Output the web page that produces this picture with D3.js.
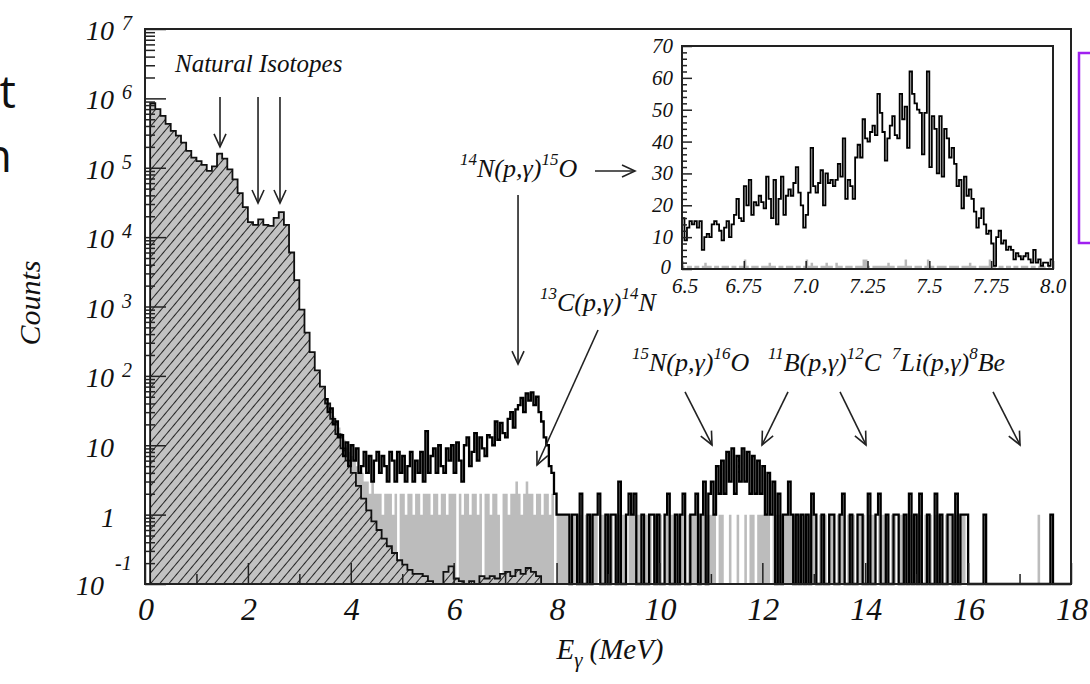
<!DOCTYPE html>
<html>
<head>
<meta charset="utf-8">
<script src="https://cdn.jsdelivr.net/npm/d3@7"></script>
<style>
  body { margin: 0; background: #fff; }
  svg text { font-family: "Liberation Serif", "Times New Roman", serif; font-style: italic; fill: #111; }
  .tick line { stroke: #222; stroke-width: 1.5; }
</style>
</head>
<body>
<svg id="chart" width="1090" height="684"></svg>
<script>
// ---- data ----

// hatched (natural background) spectrum, 0.1 MeV bins starting at 0 MeV
var hatchStart = 0, hatchWidth = 0.1;
var hatchCounts = [
  0, 8.5e5, 7.0e5, 5.6e5, 4.3e5, 3.4e5, 2.9e5, 2.3e5, 1.75e5, 1.4e5,      // 0.0 - 0.9
  1.25e5, 1.1e5, 9.0e4, 1.05e5, 1.6e5, 1.35e5, 9.5e4, 6.8e4, 4.3e4, 2.7e4, // 1.0 - 1.9
  1.65e4, 1.5e4, 1.8e4, 1.5e4, 1.45e4, 1.9e4, 2.3e4, 1.5e4, 6.0e3, 2.4e3,  // 2.0 - 2.9
  900, 420, 220, 120, 70, 40, 24, 14.5, 9, 6,                              // 3.0 - 3.9
  4.0, 2.6, 1.7, 1.15, 0.8, 0.6, 0.45, 0.35, 0.28, 0.22,                   // 4.0 - 4.9
  0.19, 0.16, 0.14, 0.14, 0.13, 0.11, 0, 0.1, 0.15, 0.18,                  // 5.0 - 5.9
  0.12, 0.11, 0, 0.11, 0.1, 0.13, 0.12, 0.13, 0.12, 0.14,                  // 6.0 - 6.9
  0.15, 0.13, 0.16, 0.14, 0.17, 0.15, 0.13, 0                              // 7.0 - 7.7
];

// grey spectrum, 0.05 MeV bins starting at 3.5 MeV
var greyStart = 3.5, greyWidth = 0.05;
var greyCounts = [
  45,38,30,26,22,18,15,12,10,8,                               // 3.5 - 3.95
  7,6,5,4,4,3,3,2,3,2,2,2,1,2,2,2,1,2,0,2,                    // 4
  2,1,2,2,1,2,2,1,2,2,2,1,2,2,1,2,2,1,2,2,                    // 5
  2,0,2,1,2,2,1,2,2,1,2,0,2,2,1,2,2,1,0,2,                    // 6
  2,1,2,2,3,2,1,2,3,2,2,1,2,2,1,2,2,1,2,0,                    // 7
  1,1,1,1,1,0,1,1,1,1,0,1,1,1,1,1,0,1,1,1,                    // 8
  1,1,0,1,1,1,1,0,1,1,1,1,1,0,1,1,1,0,1,1,                    // 9
  1,0,1,1,1,1,0,1,1,1,0,1,1,1,1,0,1,1,1,1,                    // 10
  1,1,0,1,1,0,0,1,0,0,1,0,0,1,0,1,1,0,1,1,                    // 11
  1,1,1,0,1,1,1,1,1,1,1,1,1,1,1,0,1,1,1,1,                    // 12
  1,0,1,1,1,0,1,1,0,1,1,1,0,1,1,1,0,1,1,1,                    // 13
  0,1,1,1,0,1,1,1,1,0,1,1,0,1,1,1,0,1,1,0,                    // 14
  1,1,0,1,1,1,0,1,1,1,0,1,1,1,0,1,1,1,1,0,                    // 15
  0,0,0,0,0,0,0,0,0,0,0,0,0,0,0,0,0,0,0,0,                    // 16
  0,0,0,0,0,0,0,1,0,0,0,0,0,0,0,0,0,0,0,0                     // 17
];

// black (beam) spectrum, 0.05 MeV bins starting at 3.5 MeV
var blackStart = 3.5, blackWidth = 0.05;
var blackCounts = [
  46,30,34,20,22,13,14,7,11,5,                                // 3.5 - 3.95
  10,6,9,4,5,8,4,7,3,6,8,4,7,5,3,8,6,3,8,4,                   // 4
  7,3,5,8,3,6,4,8,3,16,4,7,9,4,10,5,4,9,6,10,                 // 5
  4,11,6,3,10,13,5,8,15,6,13,9,7,14,13,10,22,12,21,15,        // 6
  13,24,30,18,33,38,48,30,56,44,58,38,50,30,22,13,10,5,4,2,   // 7
  1,1,1,1,1,0,1,1,0,2,0,0,1,0,1,1,2,0,0,1,                    // 8
  0,1,1,0,3,0,0,1,2,1,2,0,0,1,0,0,1,1,0,1,                    // 9
  0,0,1,2,0,0,1,0,1,2,0,0,1,1,2,0,1,3,0,2,                    // 10
  3,1,5,2,6,2,8,3,9,2,7,3,9,3,8,2,7,2,6,2,                    // 11
  5,1,4,1,3,0,2,0,1,1,3,1,0,1,0,1,0,1,0,2,                    // 12
  1,0,0,1,0,0,1,1,0,0,1,2,0,0,1,0,0,1,1,0,                    // 13
  0,2,0,0,1,2,0,0,1,0,0,1,1,0,0,1,0,2,0,1,                    // 14
  0,2,0,0,1,0,0,2,0,1,0,0,1,1,0,2,0,1,1,1,                    // 15
  0,0,0,0,0,0,1,0,0,0,0,0,0,0,0,0,0,0,0,0,                    // 16
  0,0,0,0,0,0,0,0,0,0,0,0,1,0,0,0,0,0,0,0                     // 17
];

// inset: 14N(p,g)15O peak, 0.01 MeV bins from 6.5 MeV
var insetStart = 6.5, insetWidth = 0.01;
var insetCounts = [
  16,9,13,15,14,15,13,15,6,10,11,10,14,15,14,12,9,13,15,10,14,17,22,16,15,
  26,20,28,17,21,20,23,21,19,29,22,16,28,14,22,29,17,23,25,23,27,32,24,20,13,
  17,24,38,26,24,27,31,20,30,27,28,26,28,33,29,41,22,28,26,22,35,39,35,47,41,
  40,43,45,42,55,49,43,34,41,45,48,42,41,55,47,51,38,62,55,52,50,49,36,49,62,
  32,48,44,30,48,29,44,41,35,38,33,26,28,19,29,23,25,22,18,13,16,19,14,11,12,
  8,1,10,12,8,9,6,7,6,3,5,4,3,4,5,3,2,6,2,3,1,2,2,1,3
];
var insetGrey = [
  1,0,1,1,0,1,1,0,1,2,1,1,0,1,1,0,1,1,1,0,1,1,0,1,1,
  3,1,0,1,1,1,0,1,1,1,2,1,1,0,1,1,0,1,1,1,0,1,1,0,1,
  3,1,2,1,1,0,1,1,2,1,1,0,2,1,1,0,1,1,1,0,1,1,1,3,3,
  1,0,1,1,1,1,1,1,2,1,1,0,1,1,1,3,1,1,0,1,1,1,0,1,3,
  1,1,0,1,1,1,1,0,1,1,1,1,0,1,1,1,2,1,1,0,1,1,1,1,3,
  1,1,0,1,1,0,1,1,0,1,1,0,1,1,1,0,1,1,0,1,2,1,0,1,0
];

// axes
var xTicks = [0, 2, 4, 6, 8, 10, 12, 14, 16, 18];
var yExponents = [-1, 0, 1, 2, 3, 4, 5, 6, 7];
var insetXTicks = [6.5, 6.75, 7.0, 7.25, 7.5, 7.75, 8.0];
var insetXLabels = ["6.5", "6.75", "7.0", "7.25", "7.5", "7.75", "8.0"];
var insetYTicks = [0, 10, 20, 30, 40, 50, 60, 70];

// annotations (energy in MeV, counts)
var isotopeArrows = [
  {E: 1.458, from: 1.05e6, to: 2.0e5},
  {E: 2.197, from: 1.05e6, to: 3.1e4},
  {E: 2.624, from: 1.05e6, to: 3.1e4}
];
var reactionLabels = [
  {a: "14", b: "N(p,\u03b3)", c: "15", d: "O", E: 6.123, n: 7.36e4},
  {a: "13", b: "C(p,\u03b3)", c: "14", d: "N", E: 7.678, n: 850},
  {a: "15", b: "N(p,\u03b3)", c: "16", d: "O", E: 9.467, n: 117},
  {a: "11", b: "B(p,\u03b3)", c: "12", d: "C", E: 12.11, n: 117},
  {a: "7",  b: "Li(p,\u03b3)", c: "8", d: "Be", E: 14.52, n: 117}
];
var reactionArrows = [
  {E0: 7.251, n0: 4.05e4, E1: 7.251, n1: 148},
  {E0: 8.747, n0: 8.97e4, E1: 9.525, n1: 8.97e4},
  {E0: 8.806, n0: 458, E1: 7.62, n1: 5.19},
  {E0: 10.497, n0: 58.6, E1: 11.022, n1: 10.1},
  {E0: 12.499, n0: 58.6, E1: 11.994, n1: 10.1},
  {E0: 13.510, n0: 58.6, E1: 14.015, n1: 10.1},
  {E0: 16.484, n0: 58.6, E1: 17.009, n1: 10.1}
];

// ---- chart ----
var svg = d3.select("#chart");

var x = d3.scaleLinear().domain([0, 18]).range([145, 1071]);
var y = d3.scaleLog().domain([0.1, 1e7]).range([584, 29]);
function yv(v) { return v > 0.1 ? y(v) : y(0.1); }

// turn bin counts into step corner points
function steps(start, width, counts) {
  var pts = [];
  counts.forEach(function(c, i) {
    pts.push([start + i * width, c]);
    pts.push([start + (i + 1) * width, c]);
  });
  return pts;
}

var defs = svg.append("defs");
var hatch = defs.append("pattern")
    .attr("id", "hatch")
    .attr("patternUnits", "userSpaceOnUse")
    .attr("width", 7).attr("height", 10)
    .attr("patternTransform", "rotate(40)");
hatch.append("rect").attr("width", 7).attr("height", 10).attr("fill", "#c2c2c2");
hatch.append("line").attr("x1", 0).attr("y1", 0).attr("x2", 0).attr("y2", 10)
    .attr("stroke", "#111").attr("stroke-width", 1.8);

defs.append("marker")
    .attr("id", "head")
    .attr("markerUnits", "userSpaceOnUse")
    .attr("viewBox", "-15 -8 17 16")
    .attr("markerWidth", 17).attr("markerHeight", 16)
    .attr("refX", 0).attr("refY", 0)
    .attr("orient", "auto")
  .append("path")
    .attr("d", "M-13,-6 L0,0 L-13,6")
    .attr("fill", "none").attr("stroke", "#222").attr("stroke-width", 1.6);

// grey spectrum
var greyArea = d3.area()
    .x(function(d) { return x(d[0]); })
    .y0(y(0.1))
    .y1(function(d) { return yv(d[1]); });
svg.append("path")
    .attr("d", greyArea(steps(greyStart, greyWidth, greyCounts)))
    .attr("fill", "#bcbcbc");

// hatched spectrum
var hatchPts = steps(hatchStart, hatchWidth, hatchCounts);
svg.append("path")
    .attr("d", greyArea(hatchPts))
    .attr("fill", "url(#hatch)");
var stepLine = d3.line()
    .x(function(d) { return x(d[0]); })
    .y(function(d) { return yv(d[1]); });
svg.append("path")
    .attr("d", stepLine(hatchPts))
    .attr("fill", "none").attr("stroke", "#111").attr("stroke-width", 1.8);

// black spectrum
svg.append("path")
    .attr("d", stepLine(steps(blackStart, blackWidth, blackCounts)))
    .attr("fill", "none").attr("stroke", "#000").attr("stroke-width", 2.3);

// frame
svg.append("rect")
    .attr("x", 145).attr("y", 29).attr("width", 926).attr("height", 555)
    .attr("fill", "none").attr("stroke", "#222").attr("stroke-width", 2);

// y ticks (inside)
var yMinor = [];
yExponents.slice(0, -1).forEach(function(k) {
  for (var m = 2; m <= 9; m++) yMinor.push(m * Math.pow(10, k));
});
var yMajor = yExponents.map(function(k) { return Math.pow(10, k); });
svg.append("g").attr("transform", "translate(145,0)")
    .call(d3.axisRight(y).tickValues(yMajor).tickSize(21).tickSizeOuter(0).tickFormat(""))
    .call(function(g) { g.select(".domain").remove(); });
svg.append("g").attr("transform", "translate(145,0)")
    .call(d3.axisRight(y).tickValues(yMinor).tickSize(10).tickSizeOuter(0).tickFormat(""))
    .call(function(g) { g.select(".domain").remove(); });

// x ticks (inside)
svg.append("g").attr("transform", "translate(0,584)")
    .call(d3.axisTop(x).tickValues(xTicks).tickSize(21).tickSizeOuter(0).tickFormat(""))
    .call(function(g) { g.select(".domain").remove(); });
svg.append("g").attr("transform", "translate(0,584)")
    .call(d3.axisTop(x).tickValues(d3.range(1, 18, 2)).tickSize(10).tickSizeOuter(0).tickFormat(""))
    .call(function(g) { g.select(".domain").remove(); });

// y labels
yExponents.forEach(function(k) {
  var yy = y(Math.pow(10, k));
  if (k === 0) {
    svg.append("text").attr("x", 101).attr("y", yy + 12).attr("font-size", 28).text("1");
  } else if (k === 1) {
    svg.append("text").attr("x", 86).attr("y", yy + 12).attr("font-size", 28).text("10");
  } else if (k === -1) {
    var t = svg.append("text").attr("x", 76).attr("y", yy + 11).attr("font-size", 28).text("10");
    t.append("tspan").attr("x", 115).attr("y", yy - 14).attr("font-size", 20).text("-1");
  } else {
    var t2 = svg.append("text").attr("x", 86).attr("y", yy + 11).attr("font-size", 28).text("10");
    t2.append("tspan").attr("dx", 8).attr("dy", -10).attr("font-size", 20).text(k);
  }
});

// x labels
xTicks.forEach(function(v) {
  svg.append("text").attr("x", x(v) + 1).attr("y", 620)
     .attr("text-anchor", "middle").attr("font-size", 32).text(v);
});

// axis titles
svg.append("text")
    .attr("transform", "translate(40,303) rotate(-90)")
    .attr("text-anchor", "middle").attr("font-size", 30).text("Counts");
var xt = svg.append("text").attr("x", 610).attr("y", 659)
    .attr("text-anchor", "middle").attr("font-size", 29);
xt.append("tspan").text("E");
xt.append("tspan").attr("dy", 8).attr("font-size", 21).text("\u03b3");
xt.append("tspan").attr("dy", -8).attr("dx", 7).text("(MeV)");

// annotations
svg.append("text").attr("x", 175).attr("y", 72).attr("font-size", 25).text("Natural Isotopes");
isotopeArrows.forEach(function(a) {
  svg.append("line")
      .attr("x1", x(a.E)).attr("y1", y(a.from))
      .attr("x2", x(a.E)).attr("y2", y(a.to))
      .attr("stroke", "#222").attr("stroke-width", 1.6)
      .attr("marker-end", "url(#head)");
});
reactionLabels.forEach(function(r) {
  var t = svg.append("text").attr("x", x(r.E)).attr("y", y(r.n)).attr("font-size", 26);
  t.append("tspan").attr("font-size", 17).attr("dy", -12).text(r.a);
  t.append("tspan").attr("dy", 12).text(r.b);
  t.append("tspan").attr("font-size", 17).attr("dy", -12).text(r.c);
  t.append("tspan").attr("dy", 12).text(r.d);
});
reactionArrows.forEach(function(a) {
  svg.append("line")
      .attr("x1", x(a.E0)).attr("y1", y(a.n0))
      .attr("x2", x(a.E1)).attr("y2", y(a.n1))
      .attr("stroke", "#222").attr("stroke-width", 1.6)
      .attr("marker-end", "url(#head)");
});

// ---- inset ----
var ix = d3.scaleLinear().domain([6.5, 8.0]).range([682, 1053]);
var iy = d3.scaleLinear().domain([0, 70]).range([269, 46]);
var inset = svg.append("g");
inset.append("rect").attr("x", 682).attr("y", 46).attr("width", 371).attr("height", 223).attr("fill", "#fff");

var iArea = d3.area()
    .x(function(d) { return ix(d[0]); })
    .y0(iy(0))
    .y1(function(d) { return iy(d[1]); });
inset.append("path")
    .attr("d", iArea(steps(insetStart, insetWidth, insetGrey)))
    .attr("fill", "#b8b8b8");
var iLine = d3.line()
    .x(function(d) { return ix(d[0]); })
    .y(function(d) { return iy(d[1]); });
inset.append("path")
    .attr("d", iLine(steps(insetStart, insetWidth, insetCounts)))
    .attr("fill", "none").attr("stroke", "#000").attr("stroke-width", 1.8);

inset.append("rect").attr("x", 682).attr("y", 46).attr("width", 371).attr("height", 223)
    .attr("fill", "none").attr("stroke", "#222").attr("stroke-width", 2);

inset.append("g").attr("transform", "translate(682,0)")
    .call(d3.axisRight(iy).tickValues(insetYTicks).tickSize(10).tickSizeOuter(0).tickFormat(""))
    .call(function(g) { g.select(".domain").remove(); });
inset.append("g").attr("transform", "translate(682,0)")
    .call(d3.axisRight(iy).tickValues(d3.range(2, 70, 2).filter(function(v) { return v % 10; }))
      .tickSize(5).tickSizeOuter(0).tickFormat(""))
    .call(function(g) { g.select(".domain").remove(); });
inset.append("g").attr("transform", "translate(0,269)")
    .call(d3.axisTop(ix).tickValues(insetXTicks).tickSize(8).tickSizeOuter(0).tickFormat(""))
    .call(function(g) { g.select(".domain").remove(); });

insetYTicks.forEach(function(v) {
  inset.append("text").attr("x", v === 0 ? 671 : 673).attr("y", iy(v) + (v === 0 ? 5 : 7))
      .attr("text-anchor", "end").attr("font-size", 21).text(v);
});
insetXTicks.forEach(function(v, i) {
  inset.append("text").attr("x", ix(v) + (i === 0 ? 3 : 0)).attr("y", 293)
      .attr("text-anchor", "middle").attr("font-size", 21).text(insetXLabels[i]);
});

// slide leftovers: purple box and clipped words at the left edge
svg.append("rect").attr("x", 1079).attr("y", 53).attr("width", 40).attr("height", 190)
    .attr("fill", "none").attr("stroke", "#a020f0").attr("stroke-width", 2.5);
svg.append("text").attr("x", 16).attr("y", 108).attr("text-anchor", "end")
    .style("font-family", "'Open Sans', sans-serif").style("font-style", "normal")
    .attr("font-size", 46).text("t");
svg.append("text").attr("x", 12).attr("y", 172).attr("text-anchor", "end")
    .style("font-family", "'Open Sans', sans-serif").style("font-style", "normal")
    .attr("font-size", 46).text("n");
</script>
</body>
</html>
